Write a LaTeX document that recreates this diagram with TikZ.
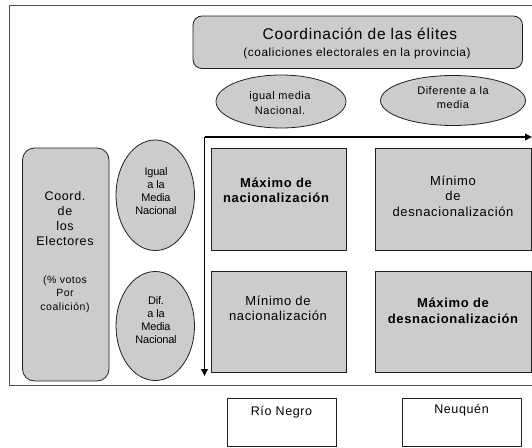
\documentclass[tikz,border=0pt]{standalone}
\usepackage{fontspec}
\setmainfont{Liberation Sans}[LetterSpace=5]
\newfontfamily\condfont{Liberation Sans}[LetterSpace=-2]
\usetikzlibrary{shapes.geometric,arrows.meta}
\definecolor{boxgray}{HTML}{CCCCCC}
\definecolor{framegray}{HTML}{505050}
\definecolor{edgegray}{HTML}{202020}
\tikzset{
  greybox/.style={draw=edgegray, fill=boxgray, line width=0.8pt, rectangle, inner sep=0pt},
  greyoval/.style={draw=edgegray, fill=boxgray, line width=0.8pt, ellipse, inner sep=0pt},
  whitebox/.style={draw=edgegray, fill=white, line width=0.8pt, rectangle, inner sep=0pt},
  lbl/.style={align=center, inner sep=0pt},
  boxtxt/.style={lbl, font=\fontsize{13}{15.5}\selectfont},
  boldtxt/.style={lbl, font=\fontsize{13}{15.5}\selectfont\bfseries},
  lefttxt/.style={lbl, font=\fontsize{12.5}{15.3}\selectfont},
  smalltxt/.style={lbl, font=\fontsize{11}{14.5}\selectfont},
  leftsmall/.style={lbl, font=\fontsize{10.5}{13.3}\selectfont},
  ovaltxt/.style={lbl, font=\condfont\fontsize{11}{13}\selectfont},
  axisline/.style={line width=1.8pt, -{Triangle[length=7pt,width=6.5pt]}},
  framepath/.style={draw=framegray, line width=1pt}
}
\begin{document}
\begin{tikzpicture}[x=1pt,y=-1pt]
\useasboundingbox (0,0) rectangle (532,447);
% outer frame
\coordinate (f1) at (532,5.5);
\coordinate (f2) at (9.5,5.5);
\coordinate (f3) at (9.5,385.5);
\coordinate (f4) at (532,385.5);
\draw[framepath] (f1) -- (f2) -- (f3) -- (f4);

% top box
\node[greybox, rounded corners=9pt, minimum width=329.5pt, minimum height=52.5pt] (elites) at (357.75,42.25) {};
\node[lbl, font=\fontsize{15.5}{18}\selectfont] (elitesA) at (360,33.5) {Coordinación de las élites};
\node[lbl, font=\fontsize{11.8}{14}\selectfont] (elitesB) at (357,53.5) {(coaliciones electorales en la provincia)};

% top ellipses
\node[greyoval, minimum width=130pt, minimum height=53pt] (igualN) at (281,101.5) {};
\node[smalltxt] (igualNt) at (280,103) {igual media\\Nacional.};
\node[greyoval, minimum width=145pt, minimum height=50pt] (difN) at (453,100.5) {};
\node[smalltxt] (difNt) at (453,97.5) {Diferente a la\\media};

% axes
\coordinate (corner) at (204.5,137);
\coordinate (xend) at (532,137);
\coordinate (yend) at (204.5,376);
\draw[axisline] (corner) -- (xend);
\draw[axisline] (corner) -- (yend);

% quadrant boxes
\node[greybox, minimum width=135pt, minimum height=102pt] (tl) at (279,199.5) {};
\node[boldtxt] (tlt) at (276,190.5) {Máximo de\\nacionalización};
\node[greybox, minimum width=156pt, minimum height=102pt] (tr) at (453.5,199.5) {};
\node[boxtxt] (trt) at (453,196) {Mínimo\\de\\desnacionalización};
\node[greybox, minimum width=135pt, minimum height=100.5pt] (bl) at (279,321.75) {};
\node[boxtxt] (blt) at (278,308.5) {Mínimo de\\nacionalización};
\node[greybox, minimum width=156pt, minimum height=100.5pt] (br) at (453.5,321.75) {};
\node[boldtxt] (brt) at (453,311) {Máximo de\\desnacionalización};

% left box
\node[greybox, rounded corners=12pt, minimum width=86.5pt, minimum height=233pt] (elect) at (65.75,264.5) {};
\node[lefttxt] (electA) at (65,218.5) {Coord.\\de\\los\\Electores};
\node[leftsmall] (electB) at (65,294) {(\% votos\\Por\\coalición)};

% side ellipses
\node[greyoval, minimum width=78.5pt, minimum height=110.5pt] (igualM) at (155.25,195.25) {};
\node[ovaltxt] (igualMt) at (156,191) {Igual\\a la\\Media\\Nacional};
\node[greyoval, minimum width=78.5pt, minimum height=109pt] (difM) at (155.25,326) {};
\node[ovaltxt] (difMt) at (156,320) {Dif.\\a la\\Media\\Nacional};

% province boxes
\node[whitebox, minimum width=109.5pt, minimum height=48pt] (rio) at (281.75,422.5) {};
\node[lbl, font=\fontsize{12.5}{15}\selectfont] (riot) at (281.5,412) {Río Negro};
\node[whitebox, minimum width=119pt, minimum height=48pt] (neu) at (461.5,422.5) {};
\node[lbl, font=\fontsize{12.5}{15}\selectfont] (neut) at (461.5,410.5) {Neuquén};
\end{tikzpicture}
\end{document}
